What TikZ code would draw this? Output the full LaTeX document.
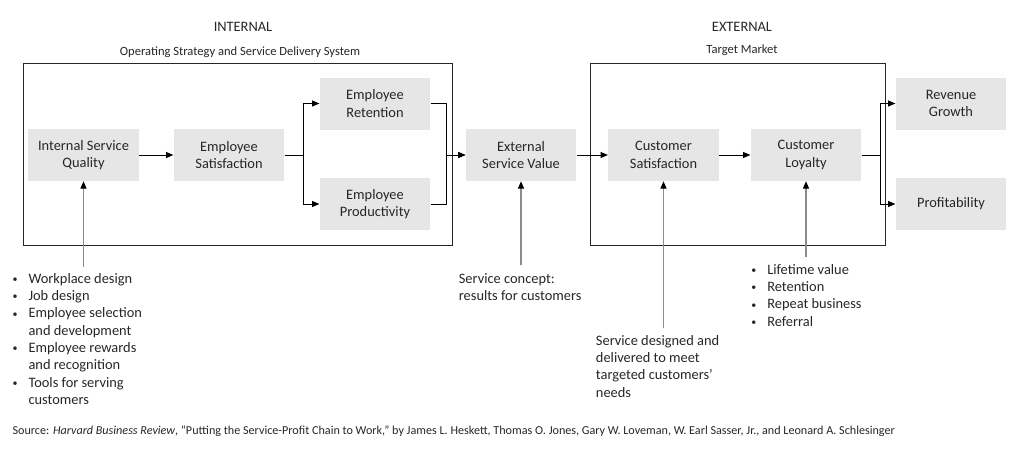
\documentclass[tikz,border=0pt]{standalone}
\usepackage{fontspec}
\setmainfont{Carlito}
\usetikzlibrary{arrows.meta}
\definecolor{boxgray}{HTML}{E7E6E6}
\definecolor{linegray}{HTML}{8C8C8C}
\definecolor{ink}{HTML}{262626}
\newcommand{\bodyfont}{\fontsize{10.8}{13}\selectfont}
\newcommand{\smallfont}{\fontsize{9.4}{11}\selectfont}
\newcommand{\srcfont}{\fontsize{9.1}{11}\selectfont}
\newcommand{\bul}{\raisebox{0.5pt}{\fontsize{7.5}{8}\selectfont •}}
\tikzset{
  stage/.style={fill=boxgray, minimum width=83pt, minimum height=39pt, inner sep=0pt,
    align=center, text=ink, font=\bodyfont},
  flow/.style={draw=black, line width=0.75pt, -{Triangle[length=5.5pt,width=4.5pt]}},
  feed/.style={draw=linegray, line width=0.9pt, -{Triangle[length=5.5pt,width=4.5pt,color=black]}},
  frame/.style={draw=black!85, line width=0.75pt},
  note/.style={anchor=base west, inner sep=0pt, text=ink, font=\bodyfont},
}
\begin{document}
\begin{tikzpicture}[x=0.75pt, y=-0.75pt]
	\useasboundingbox (0,0) rectangle (1024,458);
	% headings
	\node[text=ink, font=\bodyfont] (inthead) at (243,27) {INTERNAL};
	\node[text=ink, font=\smallfont, anchor=base] (intsub) at (240,55.5) {Operating Strategy and Service Delivery System};
	\node[text=ink, font=\bodyfont] (exthead) at (742,27) {EXTERNAL};
	\node[text=ink, font=\smallfont, anchor=base] (extsub) at (742,53.5) {Target Market};
	\draw[frame] (23,63) rectangle (452,245);
	\draw[frame] (590,63) rectangle (885,245);
	% chain
	\node[stage] (isq) at (83.5,155) {Internal Service\\Quality};
	\node[stage] (es) at (229,155) {Employee\\Satisfaction};
	\node[stage] (ret) at (375,103.5) {Employee\\Retention};
	\node[stage] (prod) at (375,204) {Employee\\Productivity};
	\node[stage] (esv) at (521,155) {External\\Service Value};
	\node[stage] (cs) at (663.5,155) {Customer\\Satisfaction};
	\node[stage] (cl) at (806,155) {Customer\\Loyalty};
	\node[stage] (rg) at (951,103.5) {Revenue\\Growth};
	\node[stage] (pr) at (951,204) {Profitability};
	\draw[flow] (isq) -- (es);
	\draw[flow] (es.east) -- ++(19,0) |- (ret.west);
	\draw[flow] (es.east) -- ++(19,0) |- (prod.west);
	\draw[flow] (ret.east) -- ++(16,0) |- (esv.west);
	\draw[flow] (prod.east) -- ++(16,0) |- (esv.west);
	\draw[flow] (esv) -- (cs);
	\draw[flow] (cs) -- (cl);
	\draw[flow] (cl.east) -- ++(19,0) |- (rg.west);
	\draw[flow] (cl.east) -- ++(19,0) |- (pr.west);
	% inputs from below
	\foreach \n/\d in {isq/85.7, esv/84, cs/147, cl/76}
	{
		\path (\n.south) ++(0,\d) coordinate (\n foot);
		\draw[feed] (\n foot) -- (\n.south);
	}
	\node[note] (isqnote) at (12.3,283.3) {\begin{tabular}[t]{@{}p{12pt}@{}l@{}}
		\bul & Workplace design\\
		\bul & Job design\\
		\bul & Employee selection\\
		  & and development\\
		\bul & Employee rewards\\
		  & and recognition\\
		\bul & Tools for serving\\
		  & customers
	\end{tabular}};
	\node[note] (esvnote) at (458.6,283.3) {\begin{tabular}[t]{@{}l@{}}
		Service concept:\\
		results for customers
	\end{tabular}};
	\node[note] (csnote) at (595.7,345) {\begin{tabular}[t]{@{}l@{}}
		Service designed and\\
		delivered to meet\\
		targeted customers’\\
		needs
	\end{tabular}};
	\node[note] (clnote) at (751,274) {\begin{tabular}[t]{@{}p{12pt}@{}l@{}}
		\bul & Lifetime value\\
		\bul & Retention\\
		\bul & Repeat business\\
		\bul & Referral
	\end{tabular}};
	% source line
	\node[note, font=\srcfont] (source) at (12.3,434) {Source: \textit{Harvard Business Review}, “Putting the Service-Profit Chain to Work,” by James L. Heskett, Thomas O. Jones, Gary W. Loveman, W. Earl Sasser, Jr., and Leonard A. Schlesinger};
\end{tikzpicture}
\end{document}
